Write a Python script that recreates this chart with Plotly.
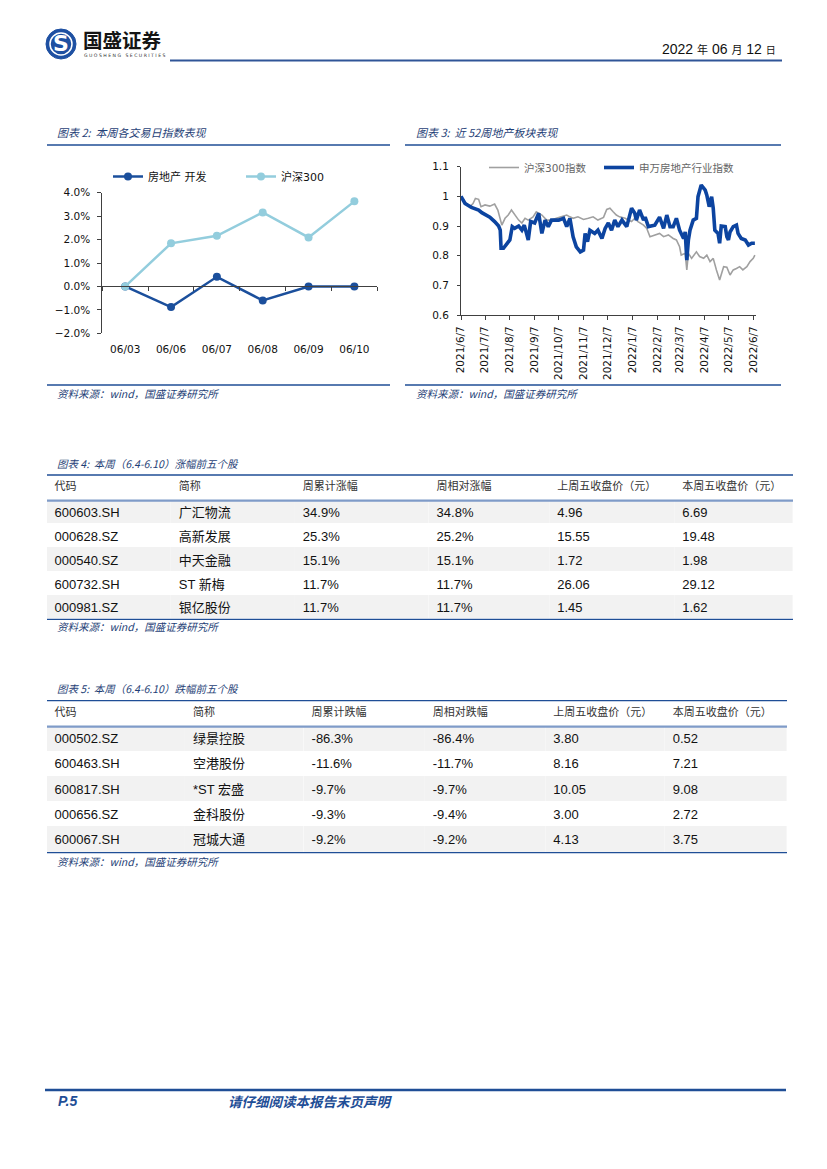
import numpy as np
import plotly.graph_objects as go

W, H = 827, 1169
# the page body adds an 8px offset; compensate so marks land where the reference has them
OX, OY = 8, 8


def px(x):
    return (x - OX) / W


def py(y):
    return 1 - (y - OY) / H


# ---------------- Chart 2 data ----------------
days2 = ["06/03", "06/06", "06/07", "06/08", "06/09", "06/10"]
re_dev = [0.00, -0.88, 0.41, -0.60, 0.00, 0.00]
hs300_week = [0.00, 1.84, 2.16, 3.16, 2.09, 3.63]

# ---------------- Chart 3 data (day offsets from 2021-06-07) ----------------
hs_days = [0, 5, 11, 15, 18, 22, 25, 30, 36, 42,
           46, 49, 51, 55, 59, 63, 67, 72, 76, 80,
           84, 90, 94, 101, 107, 113, 119, 126, 132, 136,
           140, 146, 153, 159, 165, 171, 178, 182, 186, 190,
           194, 198, 205, 209, 213, 217, 221, 228, 232, 236,
           242, 248, 253, 259, 265, 269, 273, 275, 280, 282,
           284, 288, 294, 298, 303, 307, 311, 315, 319, 323,
           328, 332, 336, 340, 344, 348, 352, 357, 361, 365,
           367]
hs_vals = [1.000, 0.982, 0.965, 0.976, 0.993, 0.990, 0.965, 0.971, 0.967, 0.974,
           0.954, 0.920, 0.903, 0.926, 0.937, 0.954, 0.937, 0.920, 0.910, 0.926,
           0.920, 0.931, 0.948, 0.937, 0.920, 0.920, 0.926, 0.931, 0.937, 0.931,
           0.926, 0.931, 0.922, 0.926, 0.931, 0.920, 0.929, 0.956, 0.960, 0.948,
           0.937, 0.931, 0.926, 0.920, 0.915, 0.926, 0.915, 0.903, 0.892, 0.864,
           0.870, 0.875, 0.864, 0.870, 0.858, 0.853, 0.830, 0.802, 0.808, 0.752,
           0.808, 0.791, 0.813, 0.797, 0.791, 0.802, 0.780, 0.791, 0.752, 0.718,
           0.763, 0.761, 0.735, 0.752, 0.757, 0.763, 0.752, 0.763, 0.780, 0.791,
           0.802]
sw_days = [0, 5, 13, 22, 26, 30, 36, 42, 47, 49,
           50, 53, 57, 61, 64, 67, 72, 76, 79, 84,
           87, 92, 97, 101, 105, 109, 113, 122, 128, 132,
           136, 140, 144, 149, 153, 155, 158, 161, 167, 171,
           176, 180, 184, 188, 192, 196, 201, 207, 213, 217,
           219, 223, 228, 230, 234, 242, 248, 253, 257, 261,
           265, 269, 273, 278, 280, 282, 284, 286, 290, 294,
           296, 300, 305, 307, 310, 313, 315, 317, 321, 323,
           325, 330, 332, 334, 336, 340, 344, 346, 350, 355,
           359, 363, 367]
sw_vals = [1.000, 0.976, 0.963, 0.954, 0.945, 0.940, 0.930, 0.915, 0.900, 0.886,
           0.825, 0.825, 0.840, 0.853, 0.898, 0.892, 0.900, 0.886, 0.903, 0.853,
           0.915, 0.910, 0.943, 0.875, 0.920, 0.898, 0.920, 0.920, 0.926, 0.898,
           0.926, 0.864, 0.830, 0.813, 0.819, 0.875, 0.847, 0.886, 0.875, 0.886,
           0.858, 0.892, 0.910, 0.886, 0.920, 0.898, 0.920, 0.898, 0.960, 0.943,
           0.920, 0.954, 0.920, 0.930, 0.898, 0.903, 0.930, 0.892, 0.937, 0.898,
           0.898, 0.926, 0.886, 0.858, 0.880, 0.785, 0.853, 0.886, 0.920, 0.926,
           0.999, 1.038, 1.021, 1.004, 0.965, 0.999, 0.960, 0.886, 0.875, 0.842,
           0.900, 0.898, 0.864, 0.853, 0.880, 0.898, 0.903, 0.875, 0.858, 0.853,
           0.836, 0.842, 0.842]
start_date = np.datetime64("2021-06-07")
tick_dates = ["2021-06-07", "2021-07-07", "2021-08-07", "2021-09-07", "2021-10-07",
              "2021-11-07", "2021-12-07", "2022-01-07", "2022-02-07", "2022-03-07",
              "2022-04-07", "2022-05-07", "2022-06-07"]
tick_labels = ["2021/6/7", "2021/7/7", "2021/8/7", "2021/9/7", "2021/10/7",
               "2021/11/7", "2021/12/7", "2022/1/7", "2022/2/7", "2022/3/7",
               "2022/4/7", "2022/5/7", "2022/6/7"]
y3_ticks = [0.6, 0.7, 0.8, 0.9, 1.0, 1.1]
y3_labels = ["0.6", "0.7", "0.8", "0.9", "1", "1.1"]

# ---------------- Table 4 data ----------------
t4_header = ["代码", "简称", "周累计涨幅", "周相对涨幅", "上周五收盘价（元）", "本周五收盘价（元）"]
t4_code = ["600603.SH", "000628.SZ", "000540.SZ", "600732.SH", "000981.SZ"]
t4_name = ["广汇物流", "高新发展", "中天金融", "ST 新梅", "银亿股份"]
t4_cum = [34.9, 25.3, 15.1, 11.7, 11.7]
t4_rel = [34.8, 25.2, 15.1, 11.7, 11.7]
t4_prev = [4.96, 15.55, 1.72, 26.06, 1.45]
t4_close = [6.69, 19.48, 1.98, 29.12, 1.62]

# ---------------- Table 5 data ----------------
t5_header = ["代码", "简称", "周累计跌幅", "周相对跌幅", "上周五收盘价（元）", "本周五收盘价（元）"]
t5_code = ["000502.SZ", "600463.SH", "600817.SH", "000656.SZ", "600067.SH"]
t5_name = ["绿景控股", "空港股份", "*ST 宏盛", "金科股份", "冠城大通"]
t5_cum = [-86.3, -11.6, -9.7, -9.3, -9.2]
t5_rel = [-86.4, -11.7, -9.7, -9.4, -9.2]
t5_prev = [3.80, 8.16, 10.05, 3.00, 4.13]
t5_close = [0.52, 7.21, 9.08, 2.72, 3.75]

# ---------------- styles ----------------
CJK = "Noto Sans CJK SC"
CHART_FONT = "DejaVu Sans, Noto Sans CJK SC"
TABLE_FONT = "Liberation Sans, Noto Sans CJK SC"
NAVY = "#1F3F77"
BLUE = "#1F4E96"
DARK_BLUE = "#1B4F9C"
LIGHT_BLUE = "#93CDDD"
AXIS = "#404040"

fig = go.Figure()

# ---- Chart 2 ----
fig.add_trace(go.Scatter(
    x=days2, y=re_dev, name="房地产 开发", mode="lines+markers",
    line=dict(color=DARK_BLUE, width=2.5), marker=dict(size=8, color=DARK_BLUE),
    xaxis="x", yaxis="y", legend="legend", hoverinfo="skip"))
fig.add_trace(go.Scatter(
    x=days2, y=hs300_week, name="沪深300", mode="lines+markers",
    line=dict(color=LIGHT_BLUE, width=2.5), marker=dict(size=8, color=LIGHT_BLUE),
    xaxis="x", yaxis="y", legend="legend2", hoverinfo="skip"))
# invisible helper trace for the zero-line axis
fig.add_trace(go.Scatter(x=days2, y=re_dev, mode="none", xaxis="x2", yaxis="y",
                         showlegend=False, hoverinfo="skip"))

# ---- Chart 3 ----
hs_x = start_date + np.array(hs_days).astype("timedelta64[D]")
sw_x = start_date + np.array(sw_days).astype("timedelta64[D]")
fig.add_trace(go.Scatter(
    x=np.datetime_as_string(hs_x), y=hs_vals, name="沪深300指数", mode="lines",
    line=dict(color="#A0A0A0", width=1.6), xaxis="x3", yaxis="y3",
    legend="legend3", hoverinfo="skip"))
fig.add_trace(go.Scatter(
    x=np.datetime_as_string(sw_x), y=sw_vals, name="申万房地产行业指数", mode="lines",
    line=dict(color="#0C44A0", width=3.6), xaxis="x3", yaxis="y3",
    legend="legend4", hoverinfo="skip"))


# ---- Tables ----
def pct(vals):
    return [f"{v:.1f}%" for v in vals]


def price(vals):
    return [f"{v:.2f}" for v in vals]


GRAY = "#F2F2F2"
row_fill = [[GRAY, "white", GRAY, "white", GRAY]]


def add_table(header, cols, x0, widths, y_top, head_h, row_h):
    total = head_h + row_h * len(cols[0])
    fig.add_trace(go.Table(
        domain=dict(x=[px(x0), px(x0 + sum(widths))], y=[py(y_top + total + 3), py(y_top)]),
        columnwidth=widths,
        header=dict(values=header, align="left", height=head_h,
                    fill=dict(color="white"), line=dict(width=0, color="white"),
                    font=dict(family=CJK, size=11, color="#333333")),
        cells=dict(values=cols, align="left", height=row_h,
                   fill=dict(color=row_fill), line=dict(width=0, color="white"),
                   font=dict(family=TABLE_FONT, size=13, color="#111111")),
    ))


add_table(t4_header,
          [t4_code, t4_name, pct(t4_cum), pct(t4_rel), price(t4_prev), price(t4_close)],
          46.6, [124.2, 124.2, 133.8, 120.7, 125.1, 118.4], 474, 25.7, 23.7)
add_table(t5_header,
          [t5_code, t5_name, pct(t5_cum), pct(t5_rel), price(t5_prev), price(t5_close)],
          46.6, [138.4, 118.7, 121.3, 120.6, 119.4, 122.0], 699.5, 26.0, 25.2)

# ---- shapes ----
shapes = []


def hline(x0, x1, y, color, width):
    shapes.append(dict(type="line", xref="paper", yref="paper",
                       x0=px(x0), x1=px(x1), y0=py(y), y1=py(y),
                       line=dict(color=color, width=width)))


hline(170, 782, 60.5, "#2F5597", 2)
hline(47, 390, 145, BLUE, 1.3)
hline(405, 781, 145, BLUE, 1.3)
hline(47, 390, 385, BLUE, 1.3)
hline(405, 781, 385, BLUE, 1.3)
hline(47, 793, 475, BLUE, 1.3)
hline(47, 793, 500.7, "#7F9BC8", 2.2)
hline(47, 793, 619.3, BLUE, 1.3)
hline(47, 787, 700.7, BLUE, 1.3)
hline(47, 787, 726.7, "#7F9BC8", 2.2)
hline(47, 787, 852.7, BLUE, 1.3)
hline(45, 786, 1090, BLUE, 2.6)
# logo circle
shapes.append(dict(type="circle", xref="paper", yref="paper",
                   x0=px(46), x1=px(76), y0=py(59), y1=py(29),
                   fillcolor="#1E50A2", line=dict(color="#1E50A2", width=1)))
shapes.append(dict(type="circle", xref="paper", yref="paper",
                   x0=px(50), x1=px(72), y0=py(55), y1=py(33),
                   fillcolor="rgba(0,0,0,0)", line=dict(color="white", width=1.5)))

# ---- annotations ----
anns = []


def txt(x, y, s, size, color, family=CJK, weight="normal", style="normal",
        anchor="left"):
    anns.append(dict(x=px(x), y=py(y), xref="paper", yref="paper", text=s,
                     showarrow=False, xanchor=anchor, yanchor="middle",
                     font=dict(family=family, size=size, color=color,
                               weight=weight, style=style)))


txt(61, 44, "S", 22, "white", family="DejaVu Sans", weight="bold", anchor="center")
txt(81, 39.5, "国盛证券", 19.5, "#151515", weight="bold")
txt(82, 55.5, "G U O S H E N G   S E C U R I T I E S", 4.6, "#333333", family="DejaVu Sans")
txt(778, 49, "2022 <span style='font-size:11px'>年</span> 06 "
             "<span style='font-size:11px'>月</span> 12 "
             "<span style='font-size:10px'>日</span>",
    14, "#111111", family="Liberation Sans, Noto Sans CJK SC", anchor="right")

txt(55, 132, "图表 2:  本周各交易日指数表现", 11, NAVY, style="italic")
txt(414, 132, "图表 3:  近 52周地产板块表现", 11, NAVY, style="italic")
txt(55, 393, "资料来源：wind，国盛证券研究所", 10.5, NAVY, style="italic")
txt(414, 393, "资料来源：wind，国盛证券研究所", 10.5, NAVY, style="italic")
txt(55, 464, "图表 4:  本周（6.4-6.10）涨幅前五个股", 10.5, NAVY, style="italic")
txt(55, 626, "资料来源：wind，国盛证券研究所", 10.5, NAVY, style="italic")
txt(55, 688.5, "图表 5:  本周（6.4-6.10）跌幅前五个股", 10.5, NAVY, style="italic")
txt(55, 861, "资料来源：wind，国盛证券研究所", 10.5, NAVY, style="italic")
txt(56, 1101, "P.5", 14, BLUE, family="Liberation Sans", weight="bold", style="italic")
txt(226, 1101, "请仔细阅读本报告末页声明", 13.5, BLUE, weight="bold", style="italic")

leg_common = dict(orientation="h", xanchor="left", yanchor="middle",
                  bgcolor="rgba(0,0,0,0)", borderwidth=0)

fig.update_layout(
    width=W, height=H, margin=dict(l=0, r=0, t=0, b=0, autoexpand=False),
    paper_bgcolor="white", plot_bgcolor="white",
    showlegend=True,
    shapes=shapes, annotations=anns,
    legend=dict(x=px(108), y=py(176.5), font=dict(family=CHART_FONT, size=11, color="#111"),
                **leg_common),
    legend2=dict(x=px(241), y=py(176.5), font=dict(family=CHART_FONT, size=11, color="#111"),
                 **leg_common),
    legend3=dict(x=px(484), y=py(167.5), font=dict(family=CHART_FONT, size=10.5, color="#666"),
                 **leg_common),
    legend4=dict(x=px(599), y=py(167.5), font=dict(family=CHART_FONT, size=10.5, color="#666"),
                 **leg_common),
    xaxis=dict(domain=[px(102.3), px(377.3)], anchor="y", type="category",
               range=[-0.5, 5.5], showline=False, ticks="", showgrid=False,
               zeroline=False, ticklabelstandoff=8, automargin=False,
               tickfont=dict(family=CHART_FONT, size=10.5, color="#111")),
    xaxis2=dict(overlaying="x", anchor="free", position=py(286), type="category",
                range=[-0.5, 5.5], showline=True, linecolor=AXIS, linewidth=1,
                ticks="outside", tickson="boundaries", ticklen=4, tickcolor=AXIS,
                showticklabels=False, showgrid=False, zeroline=False, automargin=False),
    yaxis=dict(domain=[py(333.3), py(192.7)], anchor="x", range=[-2, 4], dtick=1,
               tickformat=".1f", ticksuffix="%", showline=True, linecolor=AXIS,
               linewidth=1, ticks="outside", ticklen=4, tickcolor=AXIS,
               showgrid=False, zeroline=False, ticklabelstandoff=5, automargin=False,
               tickfont=dict(family=CHART_FONT, size=10.5, color="#111")),
    xaxis3=dict(domain=[px(461), px(756)], anchor="y3", type="date",
                range=["2021-06-07", "2022-06-10 10:00"],
                tickmode="array", tickvals=tick_dates, ticktext=tick_labels,
                tickangle=-90, showline=True, linecolor=AXIS, linewidth=1,
                ticks="outside", ticklen=4, tickcolor=AXIS, showgrid=False,
                zeroline=False, ticklabelstandoff=2, automargin=False,
                tickfont=dict(family=CHART_FONT, size=10.5, color="#111")),
    yaxis3=dict(domain=[py(315), py(166.7)], anchor="x3", range=[0.6, 1.1],
                tickmode="array", tickvals=y3_ticks, ticktext=y3_labels,
                showline=True, linecolor=AXIS, linewidth=1, ticks="outside",
                ticklen=3, tickcolor=AXIS, showgrid=False, zeroline=False,
                ticklabelstandoff=6, automargin=False,
                tickfont=dict(family=CHART_FONT, size=10.5, color="#111")),
)

fig.write_html("out.html")
